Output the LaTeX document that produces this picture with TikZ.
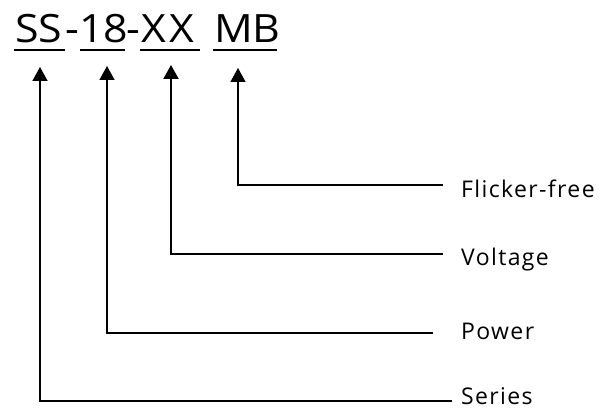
\documentclass[tikz,border=0pt]{standalone}
\usepackage{fontspec}
\setmainfont{Open Sans}
\newfontfamily\titlefont[FakeStretch=1.1]{Open Sans}
\newfontfamily\labfont[LetterSpace=6]{Open Sans}
\usetikzlibrary{arrows.meta}
\begin{document}
\begin{tikzpicture}[x=1pt,y=-1pt,
  title/.style={anchor=base west,inner sep=0pt,font=\titlefont\fontsize{39}{39}\selectfont},
  lab/.style={anchor=base west,inner sep=0pt,font=\labfont\fontsize{23}{23}\selectfont},
  uline/.style={line width=2pt},
  leader/.style={line width=1.5pt,-{Triangle[length=14pt,width=15pt]}}]
\useasboundingbox (0,0) rectangle (599,411);
% title parts
\node[title] (ss) at (15,43) {SS};
\node[title] (d1) at (65,43) {-};
\node[title] (n18) at (79,43) {18};
\node[title] (d2) at (126,43) {-};
\node[title] (xx) at (141,43) {X\hspace{4pt}X};
\node[title] (mb) at (214,43) {MB};
\coordinate (u1a) at (14,50); \coordinate (u1b) at (65,50);
\coordinate (u2a) at (80,50); \coordinate (u2b) at (125,50);
\coordinate (u3a) at (140,50); \coordinate (u3b) at (200,50);
\coordinate (u4a) at (213,50); \coordinate (u4b) at (277,50);
\draw[uline] (u1a) -- (u1b);
\draw[uline] (u2a) -- (u2b);
\draw[uline] (u3a) -- (u3b);
\draw[uline] (u4a) -- (u4b);
% tips
\coordinate (t1) at (40,67);
\coordinate (t2) at (107,66);
\coordinate (t3) at (171,65);
\coordinate (t4) at (238,68);
% labels
\node[lab] (ff) at (461,198) {Flicker-free};
\node[lab] (vo) at (461,266) {Voltage};
\node[lab] (po) at (461,339) {Power};
\node[lab] (se) at (461,404) {Series};
% line ends
\coordinate (e1) at (443,185);
\coordinate (e2) at (443,254);
\coordinate (e3) at (433,333);
\coordinate (e4) at (452,401);
\draw[leader] (e1) -| (t4);
\draw[leader,line width=2.2pt] (e2) -| (t3);
\draw[leader] (e3) -| (t2);
\draw[leader] (e4) -| (t1);
\end{tikzpicture}
\end{document}
